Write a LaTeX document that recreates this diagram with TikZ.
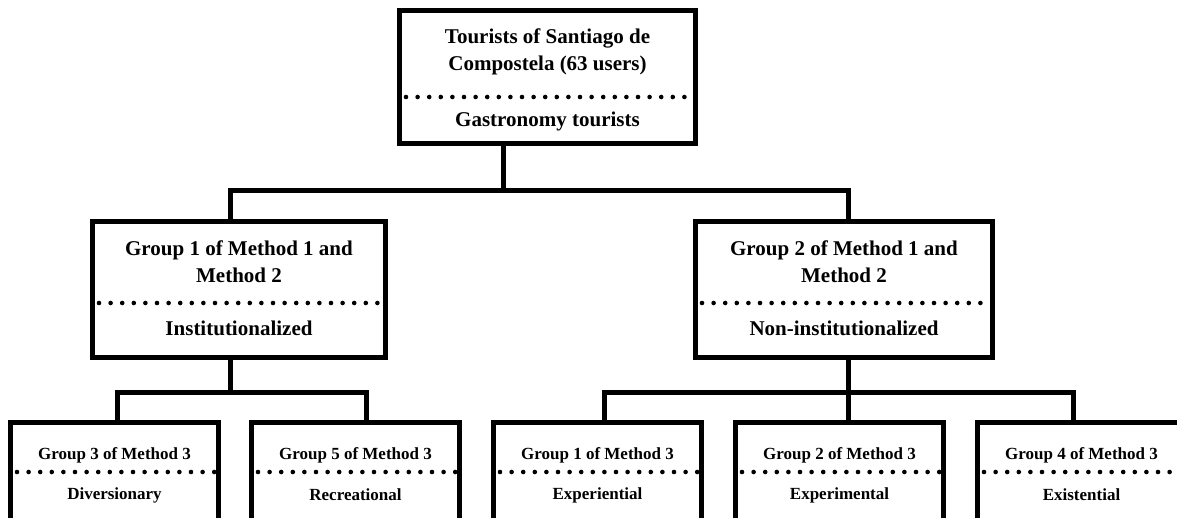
\documentclass[tikz,border=0pt]{standalone}
\usepackage{fontspec}
\setmainfont{Liberation Serif}
\begin{document}
\begin{tikzpicture}[x=1pt,y=-1pt,
  box/.style={draw=black,line width=5pt,fill=white,inner sep=0pt,rectangle},
  conn/.style={draw=black,line width=5pt,line join=miter},
  dots/.style={draw=black,line width=4.6pt,line cap=round,dash pattern=on 0pt off 11.6pt},
  bigtxt/.style={font=\fontsize{21}{27.5}\selectfont\bfseries,align=center,inner sep=0pt},
  smalltxt/.style={font=\fontsize{17}{20}\selectfont\bfseries,align=center,inner sep=0pt}]
\useasboundingbox (0,0) rectangle (1177,518);
\clip (0,0) rectangle (1177,518);
% boxes
\node[box,minimum width=296pt,minimum height=133pt] (top) at (547.5,77) {};
\node[box,minimum width=293pt,minimum height=136pt] (midL) at (239,289.5) {};
\node[box,minimum width=297pt,minimum height=136pt] (midR) at (844,289.5) {};
\node[box,minimum width=208pt,minimum height=140pt] (b1) at (114.5,492.5) {};
\node[box,minimum width=208pt,minimum height=140pt] (b2) at (355.5,492.5) {};
\node[box,minimum width=208pt,minimum height=140pt] (b3) at (597.5,492.5) {};
\node[box,minimum width=208pt,minimum height=140pt] (b4) at (839.5,492.5) {};
\node[box,minimum width=208pt,minimum height=140pt] (b5) at (1081.5,492.5) {};
% dotted separators
\draw[dots] ([xshift=9pt]top.west |- 0,97) -- ([xshift=-4pt]top.east |- 0,97);
\draw[dots] ([xshift=9pt]midL.west |- 0,303) -- ([xshift=-4pt]midL.east |- 0,303);
\draw[dots] ([xshift=9pt]midR.west |- 0,303) -- ([xshift=-4pt]midR.east |- 0,303);
\foreach \b in {b1,b2,b3,b4,b5}{
  \draw[dots] ([xshift=9pt]\b.west |- 0,472) -- ([xshift=-4pt]\b.east |- 0,472);
}
% texts
\node[bigtxt] (topT) at (547.5,52) {Tourists of Santiago de\\Compostela (63 users)};
\node[bigtxt] (topS) at (547.5,121) {Gastronomy tourists};
\node[bigtxt] (midLT) at (239,261.5) {Group 1 of Method 1 and\\Method 2};
\node[bigtxt] (midLS) at (239,328) {Institutionalized};
\node[bigtxt] (midRT) at (844,261.5) {Group 2 of Method 1 and\\Method 2};
\node[bigtxt] (midRS) at (844,328) {Non-institutionalized};
\node[smalltxt] (b1T) at (114.5,455) {Group 3 of Method 3};
\node[smalltxt] (b1S) at (114.5,495) {Diversionary};
\node[smalltxt] (b2T) at (355.5,455) {Group 5 of Method 3};
\node[smalltxt] (b2S) at (355.5,495) {Recreational};
\node[smalltxt] (b3T) at (597.5,455) {Group 1 of Method 3};
\node[smalltxt] (b3S) at (597.5,495) {Experiential};
\node[smalltxt] (b4T) at (839.5,455) {Group 2 of Method 3};
\node[smalltxt] (b4S) at (839.5,495) {Experimental};
\node[smalltxt] (b5T) at (1081.5,455) {Group 4 of Method 3};
\node[smalltxt] (b5S) at (1081.5,495) {Existential};
% junction coordinates
\coordinate (j0) at (503,190.5);
\coordinate (jL) at (230.5,190.5);
\coordinate (jR) at (848,190.5);
\coordinate (k0) at (230.5,392.5);
\coordinate (kL1) at (117.5,392.5);
\coordinate (kL2) at (366,392.5);
\coordinate (m0) at (848,392.5);
\coordinate (mR1) at (604,392.5);
\coordinate (mR2) at (848,392.5);
\coordinate (mR3) at (1073,392.5);
% connectors
\draw[conn] (top.south -| j0) -- (j0);
\draw[conn] (midL.north -| jL) -- (jL) -- (jR) -- (midR.north -| jR);
\draw[conn] (midL.south -| k0) -- (k0);
\draw[conn] (b1.north -| kL1) -- (kL1) -- (kL2) -- (b2.north -| kL2);
\draw[conn] (midR.south -| m0) -- (m0);
\draw[conn] (b3.north -| mR1) -- (mR1) -- (mR3) -- (b5.north -| mR3);
\draw[conn] (mR2) -- (b4.north -| mR2);
\end{tikzpicture}
\end{document}
